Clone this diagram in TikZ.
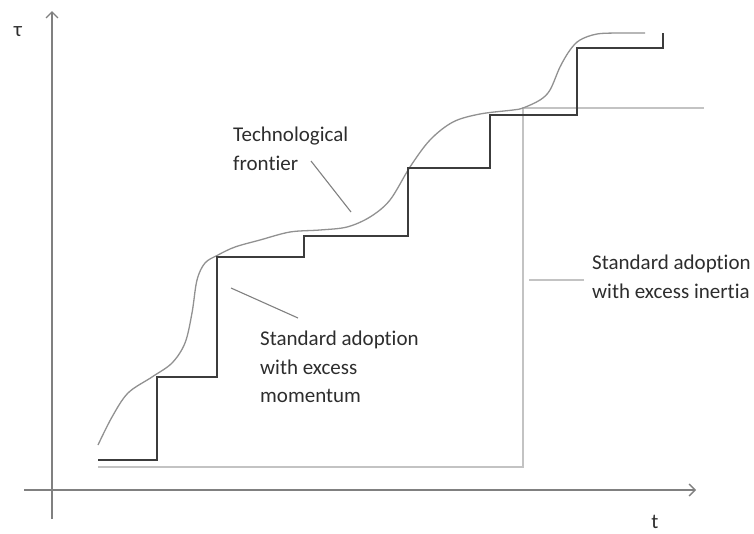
\documentclass[tikz,border=0pt]{standalone}
\usepackage{fontspec}
\setmainfont{Carlito}[Ligatures={NoCommon}]
\usetikzlibrary{arrows.meta}
\definecolor{axisgray}{RGB}{128,128,128}
\definecolor{frontgray}{RGB}{145,145,145}
\definecolor{stairgray}{RGB}{60,60,60}
\definecolor{inertgray}{RGB}{195,195,195}
\definecolor{textgray}{RGB}{45,45,45}

\begin{document}
\begin{tikzpicture}[x=1pt, y=-1pt, every node/.style={font=\fontsize{21}{28.5}\selectfont, text=textgray, inner sep=0pt, align=left}, axis/.style={draw=axisgray, line width=1.3pt, -{Straight Barb[length=6pt,width=12pt]}}, frontier/.style={draw=frontgray, line width=1.3pt}, stair/.style={draw=stairgray, line width=1.1pt}, inert/.style={draw=inertgray, line width=1.8pt}, lead/.style={draw=axisgray, line width=1.1pt}]
\useasboundingbox (0,0) rectangle (754,533);
% axes
\coordinate (ybot) at (52,519);
\coordinate (ytop) at (52,11);
\coordinate (xleft) at (24,490);
\coordinate (xright) at (696,490);
\draw[axis] (ybot) -- (ytop);
\draw[axis] (xleft) -- (xright);
\node (tau) at (18,32) {τ};
\node (tt) at (655,522) {t};
% standard adoption with excess inertia
\draw[inert] (98,467) -- (523,467) -- (523,108) -- (704,108);
% technological frontier
\draw[frontier] plot[smooth, tension=0.55] coordinates {(98,445) (112,417) (128,393) (152,377) (172,363) (185,343) (192,313) (197,280) (205,263) (218,255) (235,247) (260,240) (290,232) (320,230) (347,227) (370,217) (390,200) (410,167) (430,140) (453,122) (480,114) (513,110) (523,108) (540,100) (550,90) (560,67) (570,50) (580,40) (597,34) (620,33) (645,33)};
% standard adoption with excess momentum
\draw[stair] (98,460) -- (157,460) -- (157,377) -- (217,377) -- (217,257) -- (304,257) -- (304,236) -- (408,236) -- (408,168) -- (490,168) -- (490,115) -- (577,115) -- (577,48) -- (663,48) -- (663,33);
% labels
\node[anchor=west] (tf) at (233,149) {Technological\\frontier};
\coordinate (tfa) at (311,161);
\coordinate (tfb) at (351,212);
\draw[lead] (tfa) -- (tfb);
\node[anchor=west] (mom) at (260,367) {Standard adoption\\with excess\\momentum};
\coordinate (moma) at (298,318);
\coordinate (momb) at (231,288);
\draw[lead] (moma) -- (momb);
\node[anchor=west] (ine) at (592,277) {Standard adoption\\with excess inertia};
\coordinate (inea) at (584,280);
\coordinate (ineb) at (529,280);
\draw[inert] (inea) -- (ineb);
\end{tikzpicture}
\end{document}
